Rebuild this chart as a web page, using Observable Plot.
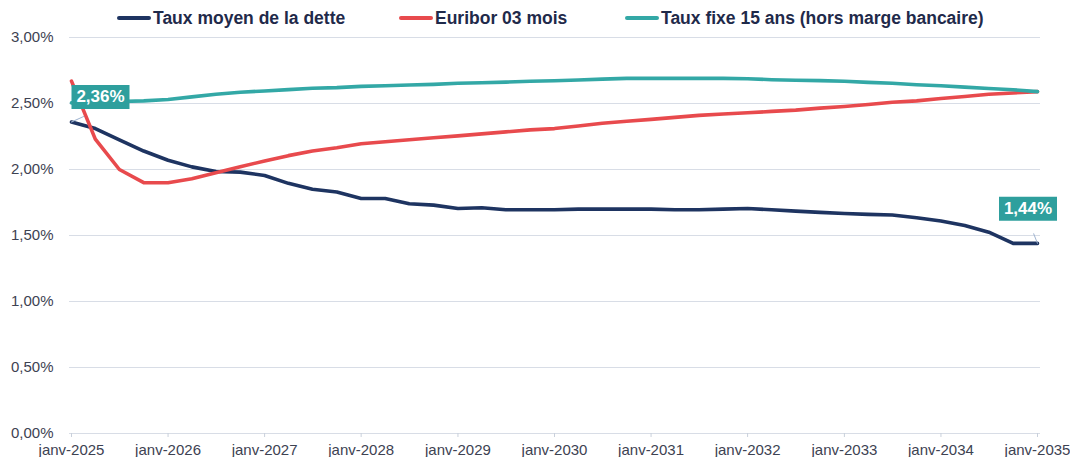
<!DOCTYPE html>
<html>
<head>
<meta charset="utf-8">
<script src="https://cdn.jsdelivr.net/npm/d3@7"></script>
<script src="https://cdn.jsdelivr.net/npm/@observablehq/plot@0.6"></script>
<style>
  html, body { margin: 0; padding: 0; background: #fff; overflow: hidden; }
  body { width: 1070px; height: 457px; font-family: "Liberation Sans", Arial, sans-serif; }
  #legend { position: relative; height: 20px; }
  .item { position: absolute; top: 6px; height: 24px; display: flex; align-items: center; font-weight: bold; font-size: 17.5px; color: #1f2a4a; white-space: nowrap; z-index: 2; }
  .swatch { display: inline-block; width: 34px; height: 4px; border-radius: 2px; margin-right: 2px; }
  #chart svg { overflow: visible; }
</style>
</head>
<body>
<div id="legend"></div>
<div id="chart"></div>
<script>
// ---- data ----
const quarters = [
  "2025-01","2025-04","2025-07","2025-10",
  "2026-01","2026-04","2026-07","2026-10",
  "2027-01","2027-04","2027-07","2027-10",
  "2028-01","2028-04","2028-07","2028-10",
  "2029-01","2029-04","2029-07","2029-10",
  "2030-01","2030-04","2030-07","2030-10",
  "2031-01","2031-04","2031-07","2031-10",
  "2032-01","2032-04","2032-07","2032-10",
  "2033-01","2033-04","2033-07","2033-10",
  "2034-01","2034-04","2034-07","2034-10",
  "2035-01"
];
const seriesNames = ["Taux moyen de la dette", "Euribor 03 mois", "Taux fixe 15 ans (hors marge bancaire)"];
const tauxMoyen = [
  2.36, 2.31, 2.225, 2.14, 2.07, 2.02, 1.985, 1.98, 1.955, 1.895,
  1.85, 1.83, 1.78, 1.78, 1.74, 1.73, 1.705, 1.71, 1.695, 1.695,
  1.695, 1.70, 1.70, 1.70, 1.70, 1.695, 1.695, 1.70, 1.705, 1.695,
  1.685, 1.675, 1.667, 1.66, 1.655, 1.635, 1.61, 1.575, 1.525, 1.44,
  1.44
];
const euribor = [
  2.67, 2.23, 2.00, 1.90, 1.90, 1.93, 1.975, 2.02, 2.065, 2.105,
  2.14, 2.165, 2.195, 2.21, 2.225, 2.24, 2.255, 2.27, 2.285, 2.30,
  2.31, 2.33, 2.35, 2.365, 2.38, 2.395, 2.41, 2.42, 2.43, 2.44,
  2.45, 2.465, 2.477, 2.492, 2.51, 2.52, 2.538, 2.553, 2.57, 2.58,
  2.59
];
const tauxFixe = [
  2.505, 2.51, 2.515, 2.52, 2.53, 2.55, 2.57, 2.585, 2.595, 2.605,
  2.615, 2.62, 2.63, 2.635, 2.64, 2.645, 2.653, 2.657, 2.662, 2.668,
  2.672, 2.678, 2.685, 2.69, 2.69, 2.69, 2.69, 2.69, 2.688, 2.68,
  2.676, 2.673, 2.668, 2.66, 2.653, 2.642, 2.634, 2.624, 2.614, 2.604,
  2.59
];
const yTicks = [0, 0.5, 1, 1.5, 2, 2.5, 3];
const xTickDates = ["2025-01","2026-01","2027-01","2028-01","2029-01","2030-01","2031-01","2032-01","2033-01","2034-01","2035-01"];
const xTickLabels = ["janv-2025","janv-2026","janv-2027","janv-2028","janv-2029","janv-2030","janv-2031","janv-2032","janv-2033","janv-2034","janv-2035"];
const colors = ["#1e3461", "#e84a4d", "#33a8a6"];

// ---- build ----
const parse = d3.utcParse("%Y-%m");
const dates = quarters.map(parse);
const tickDates = xTickDates.map(parse);
const labelOf = new Map(tickDates.map((d, i) => [+d, xTickLabels[i]]));
const rows = [];
[tauxMoyen, euribor, tauxFixe].forEach((vals, s) => {
  vals.forEach((v, i) => rows.push({date: dates[i], value: v, series: seriesNames[s]}));
});
const fmtPct = v => v.toFixed(2).replace(".", ",") + "%";

const callouts = [
  {date: dates[0], value: tauxMoyen[0], dx: 29, dy: -25, rot: 65.9, len: 31.8},
  {date: dates[dates.length - 1], value: tauxMoyen[tauxMoyen.length - 1], dx: -9.5, dy: -34.7, rot: -21.6, len: 24.4}
];
const boxSymbol = { draw(ctx) { ctx.rect(-29, -12, 58, 24); } };
const lineShape = { draw(ctx, l) { ctx.moveTo(0, 0); ctx.lineTo(0, -l); } };

// legend
const legend = document.getElementById("legend");
const legendLeft = [117, 399, 625];
seriesNames.forEach((n, i) => {
  const it = document.createElement("div");
  it.className = "item";
  it.style.left = legendLeft[i] + "px";
  it.innerHTML = `<span class="swatch" style="background:${colors[i]}"></span><span>${n}</span>`;
  legend.appendChild(it);
});

const chart = Plot.plot({
  width: 1070,
  height: 437,
  marginLeft: 71,
  marginRight: 33,
  marginTop: 17,
  marginBottom: 24,
  style: {fontFamily: "'Liberation Sans', Arial, sans-serif", fontSize: "15px", color: "#3d4252", background: "transparent", overflow: "visible"},
  x: {type: "utc", domain: [tickDates[0], tickDates[tickDates.length - 1]], label: null},
  y: {domain: [0, 3], label: null},
  color: {domain: seriesNames, range: colors},
  marks: [
    Plot.ruleY(yTicks, {stroke: "#d8dde6", strokeWidth: 1, insetRight: -3, insetLeft: -2}),
    Plot.axisY({ticks: yTicks, tickSize: 0, tickPadding: 18, tickFormat: fmtPct, fill: "#3d4252", label: null}),
    Plot.axisX({ticks: tickDates, tickSize: 4, tickPadding: 7, tickFormat: d => labelOf.get(+d), stroke: "#c9d0db", fill: "#3d4252", label: null}),
    Plot.lineY(rows, {x: "date", y: "value", stroke: "series", z: "series", strokeWidth: 3.6, strokeLinejoin: "round", strokeLinecap: "round"}),
    Plot.vector(callouts, {x: "date", y: "value", rotate: "rot", length: "len", anchor: "start", shape: lineShape, stroke: "#9fb3d0", strokeWidth: 0.9}),
    ...callouts.map(c => Plot.dot([c], {x: "date", y: "value", symbol: boxSymbol, r: 10, fill: "#2e9f9d", dx: c.dx, dy: c.dy})),
    ...callouts.map(c => Plot.text([c], {x: "date", y: "value", text: d => fmtPct(d.value), fill: "white", fontWeight: "bold", fontSize: 17, dx: c.dx, dy: c.dy}))
  ]
});
document.getElementById("chart").appendChild(chart);
</script>
</body>
</html>
